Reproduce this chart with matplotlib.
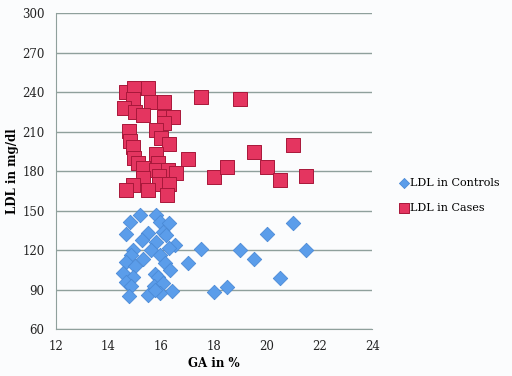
import matplotlib
matplotlib.use("Agg")
import matplotlib.pyplot as plt

# LDL in Controls (GA %, LDL mg/dl)
ctrl_ga = [15.19, 14.81, 15.80, 15.95, 16.30, 14.68, 15.48, 15.25, 16.08, 16.18,
           15.80, 16.52, 16.30, 15.61, 15.95, 14.91, 14.87, 15.32, 14.68, 15.00,
           16.14, 16.33, 14.56, 15.76, 14.94, 15.89, 14.68, 14.87, 15.72, 16.08,
           16.40, 14.78, 15.50, 15.95, 15.76,
           17.0, 17.5, 18.0, 18.5, 19.0, 19.5, 20.0, 20.5, 21.0, 21.5]
ctrl_ldl = [146.6, 141.5, 146.6, 141.5, 140.7, 132.2, 132.7, 127.6, 134.0, 131.4,
            126.3, 123.8, 121.3, 120.0, 116.2, 120.0, 116.2, 113.2, 111.1, 107.8,
            109.8, 105.1, 102.6, 102.1, 99.3, 99.7, 95.9, 92.7, 92.7, 94.7,
            89.1, 85.1, 85.8, 87.1, 89.6,
            110.4, 120.5, 88.3, 91.7, 119.8, 113.2, 131.9, 99.0, 140.3, 120.0]

# LDL in Cases
case_ga = [14.66, 14.97, 15.48, 14.91, 14.59, 15.60, 16.10, 15.00, 15.29, 16.09,
           16.45, 16.11, 14.79, 15.80, 15.99, 14.81, 16.30, 14.91, 15.80, 14.97,
           15.13, 15.86, 15.32, 15.80, 16.26, 16.54, 15.29, 15.92, 14.94, 15.90,
           16.30, 14.68, 15.48, 16.20,
           17.0, 17.5, 18.0, 18.5, 19.0, 19.5, 20.0, 20.5, 21.0, 21.5]
case_ldl = [240.2, 242.8, 242.8, 234.4, 228.1, 232.2, 232.2, 225.0, 222.5, 221.2,
            221.2, 216.2, 210.4, 211.1, 205.3, 203.0, 200.5, 198.0, 192.7, 189.6,
            186.3, 186.3, 182.5, 180.8, 180.8, 178.2, 174.9, 176.2, 169.4, 169.9,
            169.9, 165.6, 165.6, 161.8,
            189.1, 236.4, 175.2, 182.8, 234.7, 194.4, 182.8, 172.9, 199.5, 176.0]

plt.rcParams['font.family'] = ['DejaVu Serif']

fig = plt.figure(figsize=(5.12, 3.76), dpi=100)
fig.patch.set_facecolor('#fbfcfd')
ax = fig.add_axes([0.109, 0.125, 0.618, 0.840])
ax.set_facecolor('#fbfcfd')

ax.scatter(ctrl_ga, ctrl_ldl, marker='D', s=54, color='#5b9dea',
           edgecolors='#4b8ad6', linewidths=0.6, label='LDL in Controls', zorder=3)
ax.scatter(case_ga, case_ldl, marker='s', s=92, color='#e43560',
           edgecolors='#a8183a', linewidths=0.7, label='LDL in Cases', zorder=3)

ax.set_xlim(12, 24)
ax.set_ylim(60, 300)
ax.set_xticks(range(12, 25, 2))
ax.set_yticks(range(60, 301, 30))
ax.yaxis.grid(True, color='#8fa09c', linewidth=1.0)
ax.set_axisbelow(True)
ax.tick_params(length=0, labelsize=8.5, colors='#222222', pad=8)

for side in ['top', 'right']:
    ax.spines[side].set_visible(False)
for side in ['left', 'bottom']:
    ax.spines[side].set_color('#8fa09c')

ax.set_xlabel('GA in %', fontsize=8.5, fontweight='bold', labelpad=3)
ax.set_ylabel('LDL in mg/dl', fontsize=8.5, fontweight='bold', labelpad=2)

ax.legend(loc='center left', bbox_to_anchor=(0.765, 0.48), bbox_transform=fig.transFigure,
          frameon=False, fontsize=8, handletextpad=0.05, labelspacing=1.3,
          handlelength=0.9, markerscale=0.7, borderpad=0.2)

fig.savefig('out.png', dpi=100, facecolor=fig.get_facecolor())
